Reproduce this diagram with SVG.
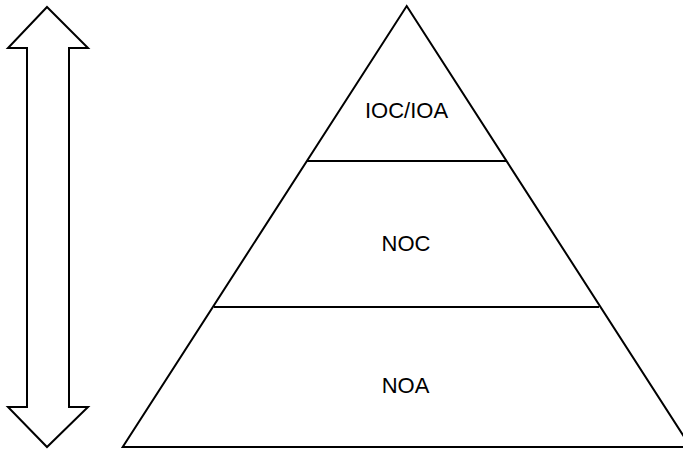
<svg xmlns="http://www.w3.org/2000/svg" width="683" height="449" viewBox="0 0 683 449">
<style>
.s{fill:none;stroke:#000;stroke-width:2;stroke-linejoin:miter}
.t{font-family:"Liberation Sans",Arial,sans-serif;font-size:22px;fill:#000;text-anchor:middle}
</style>
<rect width="683" height="449" fill="#fff"/>
<g id="arrow">
<polygon class="s" points="47,7 88,48 69,48 69,407 88,407 47,447 8,407 27,407 27,48 8,48"/>
</g>
<g id="pyramid">
<polygon class="s" points="406.7,6 690.7,447 122.7,447"/>
</g>
<g id="connectors">
<line class="s" x1="307" y1="161" x2="506" y2="161"/>
<line class="s" x1="214" y1="307" x2="599" y2="307"/>
</g>
<g id="ioc"><text class="t" x="406.5" y="118">IOC/IOA</text></g>
<g id="noc"><text class="t" x="406" y="251">NOC</text></g>
<g id="noa"><text class="t" x="405.5" y="393">NOA</text></g>
</svg>
